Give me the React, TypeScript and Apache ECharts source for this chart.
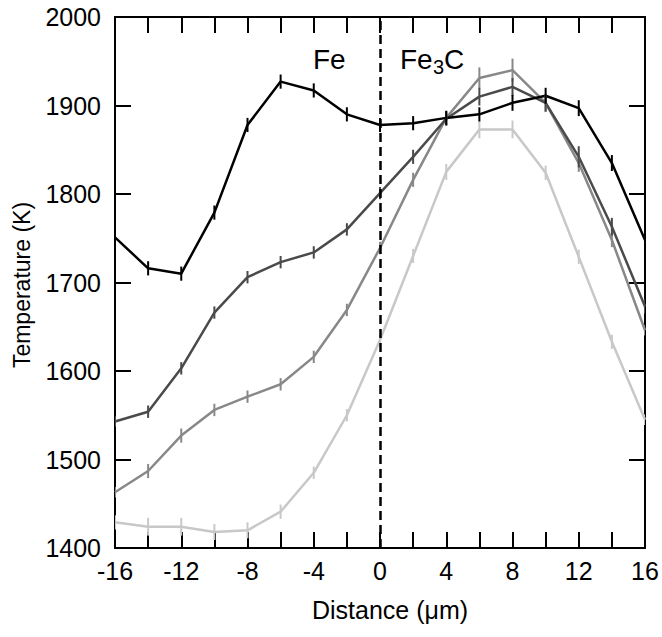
import React, { useEffect, useRef } from "react";
import * as echarts from "echarts";

const xValues = [-16, -14, -12, -10, -8, -6, -4, -2, 0, 2, 4, 6, 8, 10, 12, 14, 16];
const xTickLabels = ["-16", "-12", "-8", "-4", "0", "4", "8", "12", "16"];
const yTickLabels = ["1400", "1500", "1600", "1700", "1800", "1900", "2000"];

const seriesBlack = [1751, 1716, 1710, 1779, 1878, 1927, 1917, 1890, 1878, 1880, 1886, 1890, 1903, 1911, 1897, 1835, 1748];
const seriesDark = [1543, 1554, 1603, 1666, 1706, 1723, 1734, 1760, 1801, 1842, 1885, 1910, 1921, 1903, 1842, 1763, 1673];
const seriesMedium = [1463, 1487, 1527, 1556, 1571, 1585, 1616, 1669, 1739, 1816, 1886, 1931, 1940, 1903, 1835, 1748, 1646];
const seriesLight = [1429, 1424, 1424, 1418, 1420, 1441, 1485, 1550, 1635, 1730, 1825, 1873, 1873, 1824, 1729, 1633, 1545];

const errBlack = [8, 8, 8, 8, 8, 8, 8, 8, 8, 8, 8, 8, 9, 9, 9, 9, 8];
const errDark = [6, 7, 7, 7, 7, 7, 7, 7, 7, 8, 8, 10, 10, 10, 12, 10, 8];
const errMedium = [6, 8, 8, 7, 7, 7, 7, 7, 7, 8, 8, 12, 13, 10, 10, 8, 6];
const errLight = [8, 10, 10, 9, 9, 8, 7, 7, 7, 8, 9, 10, 10, 8, 8, 8, 6];

const FONT = '"Liberation Sans", Arial, Helvetica, sans-serif';

const lines = [
  { name: "light", values: seriesLight, errs: errLight, color: "#c8c8c8" },
  { name: "medium", values: seriesMedium, errs: errMedium, color: "#888888" },
  { name: "dark", values: seriesDark, errs: errDark, color: "#4a4a4a" },
  { name: "black", values: seriesBlack, errs: errBlack, color: "#000000" },
];

export default function App() {
  const ref = useRef<HTMLDivElement>(null);

  useEffect(() => {
    if (!ref.current) return;
    const chart = echarts.init(ref.current, undefined, { renderer: "svg" });

    const axisLineStyle = { color: "#000", width: 2 };
    const tickStyle = { show: true, inside: true, length: 16, lineStyle: { color: "#000", width: 2 } };

    const series: any[] = [];
    lines.forEach((l) => {
      series.push({
        type: "line",
        name: l.name,
        data: xValues.map((x, i) => [x, l.values[i]]),
        showSymbol: false,
        symbol: "none",
        lineStyle: { color: l.color, width: 2.5 },
        z: 3,
        clip: true,
      });
      series.push({
        type: "custom",
        name: l.name + "-err",
        data: xValues.map((x, i) => [x, l.values[i], l.errs[i]]),
        renderItem: (params: any, api: any) => {
          const x = api.value(0);
          const y = api.value(1);
          const e = api.value(2);
          const p1 = api.coord([x, y + e]);
          const p2 = api.coord([x, y - e]);
          return {
            type: "line",
            shape: { x1: p1[0], y1: p1[1], x2: p2[0], y2: p2[1] },
            style: { stroke: l.color, lineWidth: 2 },
          };
        },
        z: 4,
        clip: true,
      });
    });

    series.push({
      type: "line",
      data: [],
      markLine: {
        silent: true,
        symbol: "none",
        label: { show: false },
        lineStyle: { color: "#000", width: 2.5, type: [9, 5] },
        data: [{ xAxis: 0 }],
      },
    });

    chart.setOption({
      animation: false,
      backgroundColor: "#fff",
      grid: { left: 115, right: 17, top: 17, bottom: 89, containLabel: false, outerBoundsMode: "none" },
      xAxis: [
        {
          type: "value",
          min: -16,
          max: 16,
          interval: 2,
          position: "bottom",
          axisLine: { show: true, onZero: false, lineStyle: axisLineStyle },
          axisTick: tickStyle,
          splitLine: { show: false },
          axisLabel: {
            margin: 10,
            color: "#000",
            fontSize: 25,
            fontFamily: FONT,
            formatter: (v: number) => {
              const s = String(v);
              return xTickLabels.includes(s) ? s : "";
            },
          },
        },
        {
          type: "value",
          min: -16,
          max: 16,
          interval: 2,
          position: "top",
          axisLine: { show: true, onZero: false, lineStyle: axisLineStyle },
          axisTick: tickStyle,
          splitLine: { show: false },
          axisLabel: { show: false },
        },
      ],
      yAxis: [
        {
          type: "value",
          min: 1400,
          max: 2000,
          interval: 100,
          position: "left",
          axisLine: { show: true, onZero: false, lineStyle: axisLineStyle },
          axisTick: tickStyle,
          splitLine: { show: false },
          axisLabel: {
            margin: 14,
            color: "#000",
            fontSize: 25,
            fontFamily: FONT,
            formatter: (v: number) => {
              const s = String(v);
              return yTickLabels.includes(s) ? s : "";
            },
          },
        },
        {
          type: "value",
          min: 1400,
          max: 2000,
          interval: 100,
          position: "right",
          axisLine: { show: true, onZero: false, lineStyle: axisLineStyle },
          axisTick: tickStyle,
          splitLine: { show: false },
          axisLabel: { show: false },
        },
      ],
      series,
      graphic: [
        {
          type: "text",
          x: 22,
          y: 285,
          rotation: Math.PI / 2,
          style: {
            text: "Temperature (K)",
            font: `23px ${FONT}`,
            fill: "#000",
            align: "center",
            verticalAlign: "middle",
          },
        },
        {
          type: "text",
          x: 390,
          y: 610,
          style: {
            text: "Distance (μm)",
            font: `25px ${FONT}`,
            fill: "#000",
            align: "center",
            verticalAlign: "middle",
          },
        },
        {
          type: "text",
          x: 313,
          y: 59,
          style: { text: "Fe", font: `28px ${FONT}`, fill: "#000", align: "left", verticalAlign: "middle" },
        },
        {
          type: "text",
          x: 400,
          y: 59,
          style: { text: "Fe", font: `28px ${FONT}`, fill: "#000", align: "left", verticalAlign: "middle" },
        },
        {
          type: "text",
          x: 433,
          y: 67,
          style: { text: "3", font: `20px ${FONT}`, fill: "#000", align: "left", verticalAlign: "middle" },
        },
        {
          type: "text",
          x: 444,
          y: 59,
          style: { text: "C", font: `28px ${FONT}`, fill: "#000", align: "left", verticalAlign: "middle" },
        },
      ],
    });

    return () => chart.dispose();
  }, []);

  return <div ref={ref} style={{ position: "absolute", left: 0, top: 0, width: 662, height: 637 }} />;
}
